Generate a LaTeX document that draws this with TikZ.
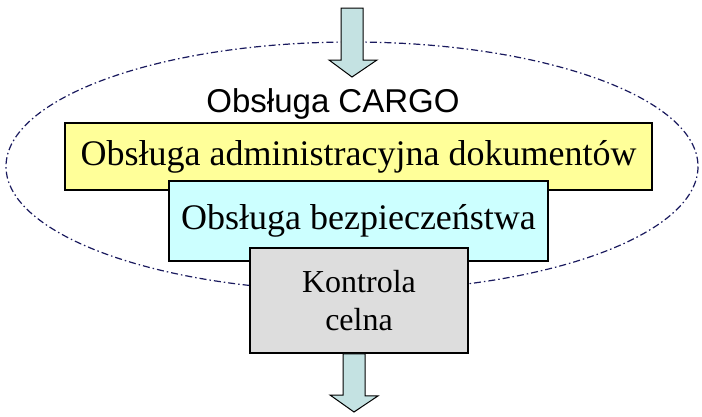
\documentclass[tikz,border=0pt]{standalone}
\usepackage{fontspec}
\setmainfont{Liberation Serif}
\newfontfamily\titlefont{Liberation Sans}
\definecolor{boxyellow}{HTML}{FFFF99}
\definecolor{boxcyan}{HTML}{CCFFFF}
\definecolor{boxgrey}{HTML}{DDDDDD}
\definecolor{arrowfill}{HTML}{C4E2E2}
\definecolor{rimblue}{HTML}{1A1A5E}

\begin{document}
\begin{tikzpicture}[x=1pt,y=-1pt,
  box/.style={draw=black,line width=1.8pt,inner sep=0pt,font=\fontsize{36}{38}\selectfont},
  blockarrow/.style={draw=black,line width=1pt,fill=arrowfill,line join=miter}]
\useasboundingbox (0,0) rectangle (702,416);
% the CARGO area
\draw[rimblue,line width=1.2pt,dash pattern=on 7pt off 3pt on 1.5pt off 3pt] (352,166.5) ellipse (346 and 124.5);
\node[font=\titlefont\fontsize{33}{36}\selectfont,anchor=base] (cargo) at (333,112) {Obsługa CARGO};
% the three steps
\node[box,fill=boxyellow,minimum width=587pt,minimum height=67pt] (admin) at (358.5,156.5) {Obsługa administracyjna dokumentów};
\node[box,fill=boxcyan,minimum width=379pt,minimum height=80pt] (safety) at (358.5,221) {Obsługa bezpieczeństwa};
\node[box,fill=boxgrey,minimum width=218pt,minimum height=105pt,align=center,font=\fontsize{32}{38}\selectfont] (customs) at (359,300.5) {Kontrola\\celna};
% arrows in and out
\coordinate (in) at (352,8);
\coordinate (out) at (customs.south -| 354,0);
\draw[blockarrow] (in) ++(-11,0) -- ++(22,0) -- ++(0,52) -- ++(14,0) -- (352,77) -- (329,60) -- (341,60) -- cycle;
\draw[blockarrow] (out) ++(-11,0) -- ++(22,0) -- ++(0,42) -- ++(13,0) -- (354,412) -- (330,395) -- (343,395) -- cycle;
\end{tikzpicture}
\end{document}
